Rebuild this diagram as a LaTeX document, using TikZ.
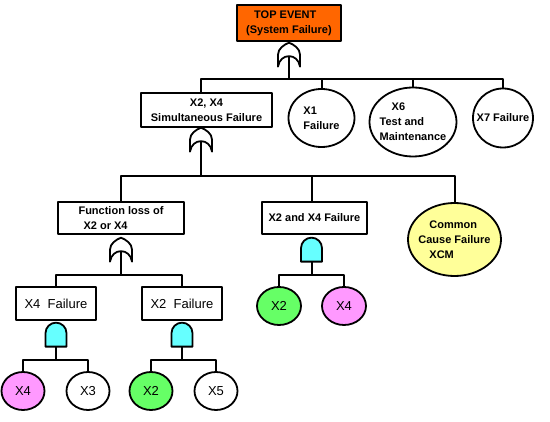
\documentclass[tikz,border=0pt]{standalone}
\usepackage{fontspec}
\setmainfont{Liberation Sans}
\usepackage{tikz}
\usetikzlibrary{calc,shapes.geometric}
\definecolor{topfill}{HTML}{FF6600}
\definecolor{andfill}{HTML}{66FFFF}
\definecolor{greenfill}{HTML}{66FF66}
\definecolor{pinkfill}{HTML}{FF99FF}
\definecolor{ccffill}{HTML}{FFFF99}
\newcommand{\upperfont}{\fontsize{11}{15}\selectfont\bfseries}
\newcommand{\lowerfont}{\fontsize{13}{15}\selectfont}
\tikzset{
faulttree/.style={x=1pt,y=1pt,line join=round},
gatebox/.style={rectangle,draw,line width=1.3pt,inner sep=0pt,font=\upperfont},
event/.style={ellipse,draw,line width=1.8pt,inner xsep=-12pt,inner ysep=0pt,font=\upperfont},
basic/.style={ellipse,draw,line width=1.8pt,minimum width=43pt,minimum height=38pt,inner sep=0pt,font=\lowerfont},
link/.style={line width=2pt},
gate/.style={line width=1.8pt,fill=white,line join=round},
or gate/.pic={
  \draw[gate] (-11,-24) -- (-11,-12) .. controls (-11,-6) and (-5,-2) .. (0,0)
     .. controls (5,-2) and (11,-6) .. (11,-12) -- (11,-24)
     .. controls (9,-10) and (-9,-10) .. (-11,-24) -- cycle;
  \coordinate (-top) at (0,0);
  \coordinate (-in) at (0,-13.5);
},
and gate/.pic={
  \draw[gate,fill=andfill] (-10.5,-24) -- (-10.5,-10.5)
     arc[start angle=180,end angle=0,radius=10.5pt] -- (10.5,-24) -- cycle;
  \coordinate (-top) at (0,0);
  \coordinate (-bot) at (0,-24);
},
}

\begin{document}
\begin{tikzpicture}[faulttree]
                \useasboundingbox (0,0) rectangle (550,-422);
                \node[gatebox,fill=topfill,minimum width=104pt,minimum height=36pt,align=left] (top) at (289,-23) {\hspace*{8pt}TOP EVENT\\(System Failure)};
                \node[gatebox,minimum width=131pt,minimum height=34pt,align=center] (sim) at (206.5,-110) {X2, X4\\Simultaneous Failure};
                \node[event,minimum width=66pt,minimum height=58pt,align=left] (x1) at (321.5,-118) {X1\\Failure};
                \node[event,minimum width=87pt,minimum height=69pt,align=left] (x6) at (413,-122) {\hspace*{12pt}X6\\Test and\\Maintenance};
                \node[event,minimum width=60pt,minimum height=59pt] (x7) at (503,-118) {X7 Failure};
                
                \node[gatebox,minimum width=126pt,minimum height=32pt,align=left] (func) at (121,-218) {Function loss of\\\hspace*{5pt}X2 or X4};
                \node[gatebox,minimum width=105pt,minimum height=32pt] (andbox) at (314.5,-218) {X2 and X4 Failure};
                \node[event,fill=ccffill,minimum width=93pt,minimum height=73pt,align=left] (ccf) at (454.5,-239.5) {\hspace*{11pt}Common\\Cause Failure\\\hspace*{11pt}XCM};
                
                \node[gatebox,font=\lowerfont,minimum width=80pt,minimum height=33pt] (x4f) at (56,-303.5) {X4\ \ Failure};
                \node[gatebox,font=\lowerfont,minimum width=80pt,minimum height=33pt] (x2f) at (182,-303.5) {X2\ \ Failure};
                \node[basic,minimum width=44pt,fill=greenfill] (b2b) at (279,-306) {X2};
                \node[basic,minimum width=44pt,fill=pinkfill] (b4b) at (344,-306) {X4};
                
                \node[basic,fill=pinkfill] (b4a) at (23,-391) {X4};
                \node[basic] (b3) at (88,-391) {X3};
                \node[basic,fill=greenfill] (b2a) at (151,-391) {X2};
                \node[basic] (b5) at (216,-391) {X5};
                
                % gates
                \pic (g1) at ([yshift=-1pt]top.south) {or gate};
                \pic (g2) at ([xshift=-5.5pt]sim.south) {or gate};
                \pic (g3) at ([yshift=-3pt]func.south) {or gate};
                \pic (a1) at ([xshift=-3pt,yshift=-3pt]andbox.south) {and gate};
                \pic (a2) at ([yshift=-2pt]x4f.south) {and gate};
                \pic (a3) at ([yshift=-2pt]x2f.south) {and gate};
                
                \coordinate (bar1) at (0,-79);
                \coordinate (bar2) at (0,-176);
                \coordinate (bar3) at (0,-275.5);
                \coordinate (bar4) at (0,-360);
                
                \draw[link] (g1-in) -- (g1-in |- bar1);
                \draw[link] (sim.north -| g2-top) |- (bar1 -| x7.north) -- (x7.north);
                \foreach \ev in {x1,x6}
                    \draw[link] (\ev.north) -- (\ev.north |- bar1);
                
                \draw[link] (g2-in) -- (g2-in |- bar2);
                \draw[link] (func.north) |- (bar2 -| ccf.north) -- (ccf.north);
                \draw[link] (andbox.north -| a1-top) -- (a1-top |- bar2);
                
                \draw[link] (g3-in) -- (g3-in |- bar3);
                \draw[link] (x4f.north) |- (bar3 -| x2f.north) -- (x2f.north);
                \draw[link] (a1-bot) -- (a1-bot |- bar3);
                \draw[link] (b2b.north) |- (bar3 -| b4b.north) -- (b4b.north);
                
                \draw[link] (a2-bot) -- (a2-bot |- bar4);
                \draw[link] (b4a.north) |- (bar4 -| b3.north) -- (b3.north);
                \draw[link] (a3-bot) -- (a3-bot |- bar4);
                \draw[link] (b2a.north) |- (bar4 -| b5.north) -- (b5.north);
            \end{tikzpicture}
\end{document}
